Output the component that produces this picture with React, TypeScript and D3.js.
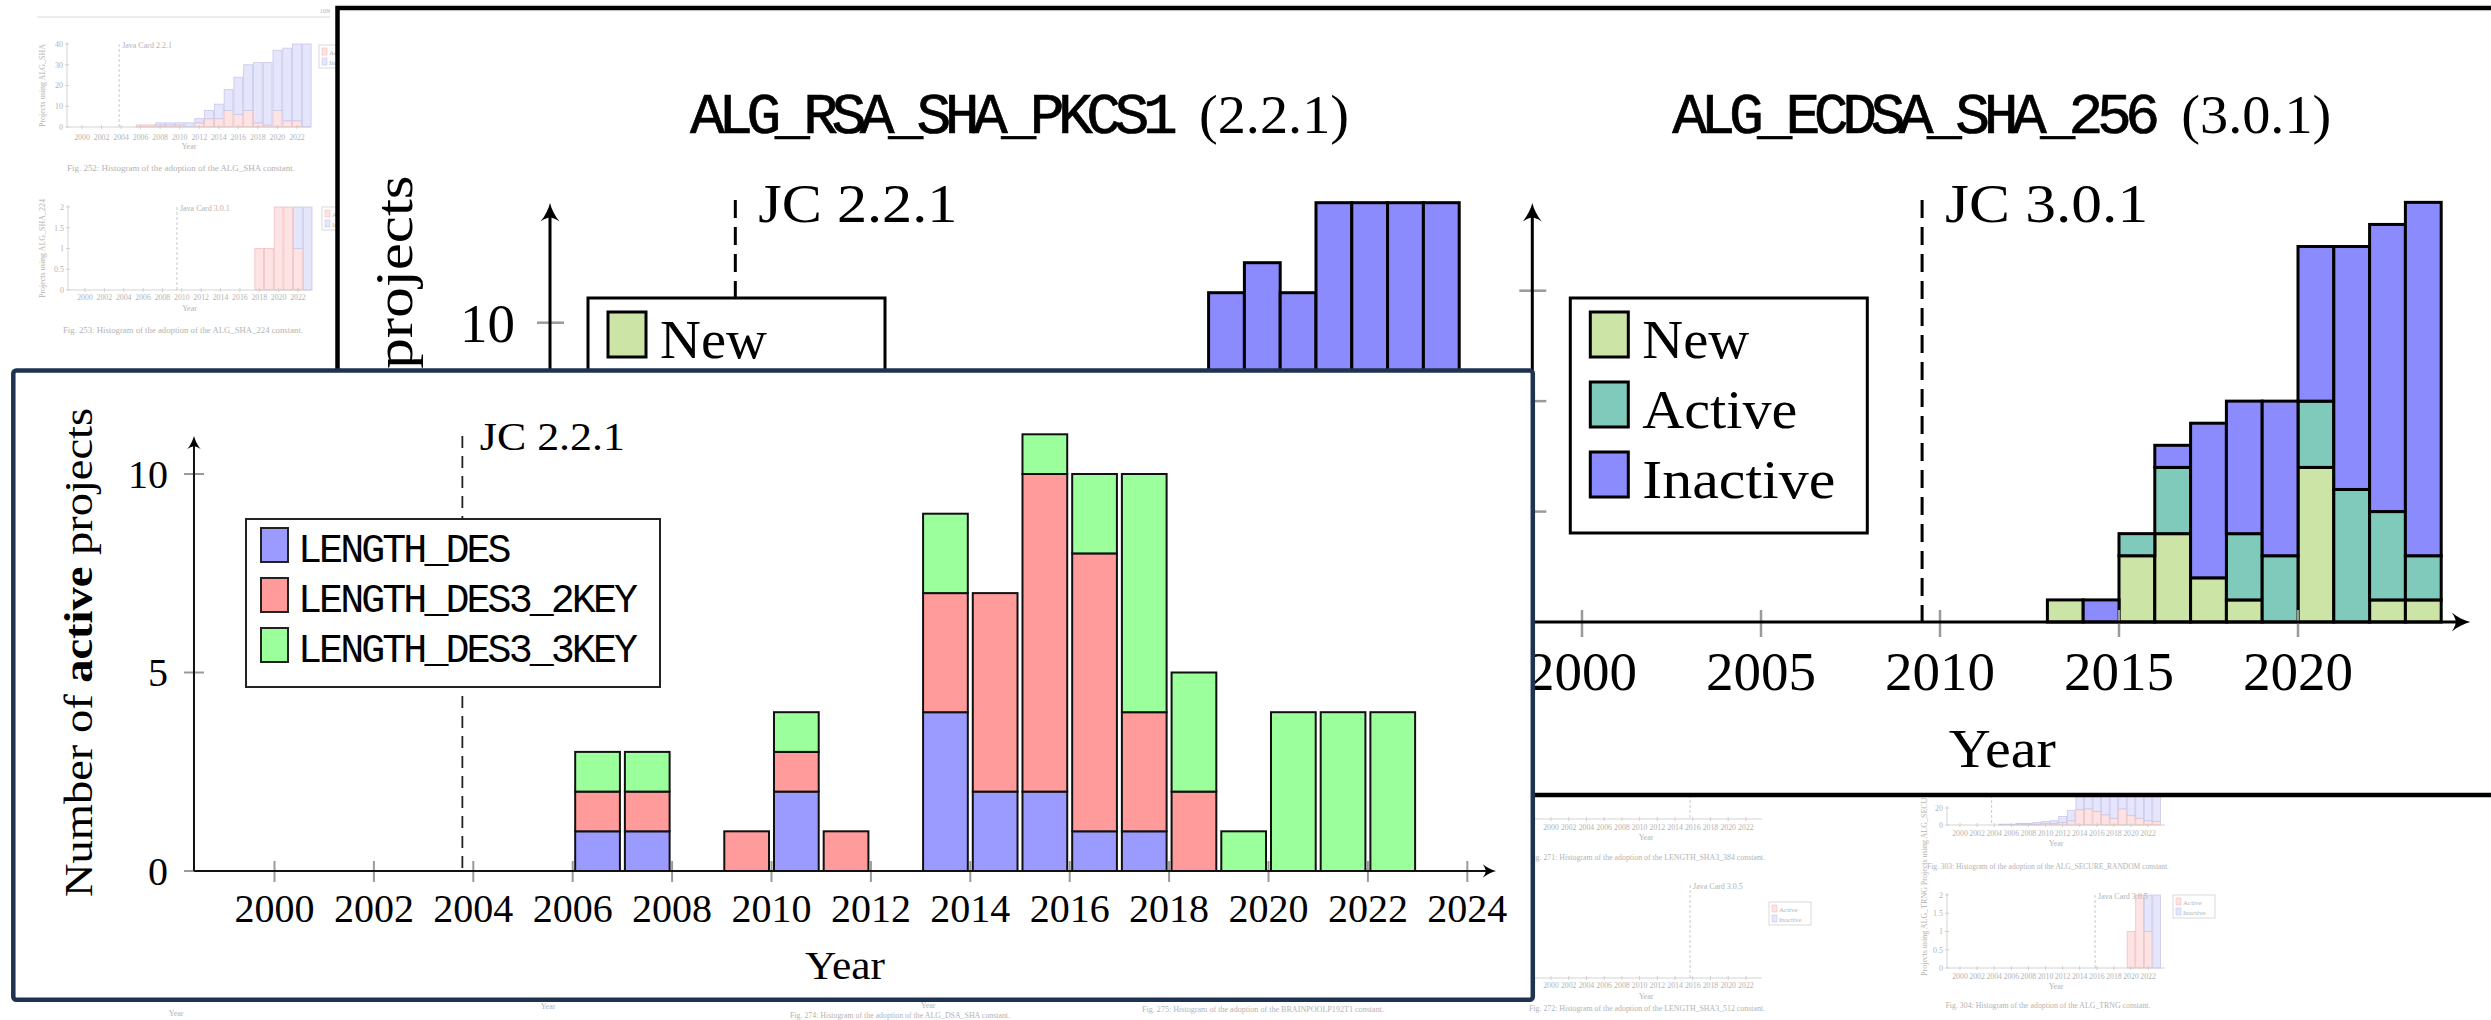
import React from "react";
import * as d3 from "d3";

const SERIF = "'Liberation Serif','Times New Roman',serif";
const MONO = "'Liberation Mono','DejaVu Sans Mono',monospace";

// ---------------- Front chart: DES key lengths ----------------
const desYears = [2006, 2007, 2009, 2010, 2011, 2013, 2014, 2015, 2016, 2017, 2018, 2019, 2020, 2021, 2022];
const lengthDes = [1, 1, 0, 2, 0, 4, 2, 2, 1, 1, 0, 0, 0, 0, 0];
const lengthDes3Key2 = [1, 1, 1, 1, 1, 3, 5, 8, 7, 3, 2, 0, 0, 0, 0];
const lengthDes3Key3 = [1, 1, 0, 1, 0, 2, 0, 1, 2, 6, 3, 1, 4, 4, 4];
const desKeys = ["LENGTH_DES", "LENGTH_DES3_2KEY", "LENGTH_DES3_3KEY"];
const desColors = ["#9b9bff", "#ff9b9b", "#9bff9b"];
const desXTicks = [2000, 2002, 2004, 2006, 2008, 2010, 2012, 2014, 2016, 2018, 2020, 2022, 2024];
const desYTicks = [0, 5, 10];

// ---------------- Back charts: New / Active / Inactive ----------------
const statusKeys = ["New", "Active", "Inactive"];
const statusColors = ["#cce5a6", "#80cabb", "#8b8bfd"];

const ecdsaYears = [2013, 2014, 2015, 2016, 2017, 2018, 2019, 2020, 2021, 2022, 2023];
const ecdsaNew = [1, 0, 3, 4, 2, 1, 0, 7, 0, 1, 1];
const ecdsaActive = [0, 0, 1, 3, 0, 3, 3, 3, 6, 4, 2];
const ecdsaInactive = [0, 1, 0, 1, 7, 6, 7, 7, 11, 13, 16];
const ecdsaXTicks = [2000, 2005, 2010, 2015, 2020];
const ecdsaYTicks = [5, 10, 15];

const rsaYears = [2017, 2018, 2019, 2020, 2021, 2022, 2023];
const rsaInactive = [11, 12, 11, 14, 14, 14, 14];
const rsaYTicks = [10];

// ---------------- Faint background page histograms ----------------
const shaYears = [2006, 2007, 2008, 2009, 2010, 2011, 2012, 2013, 2014, 2015, 2016, 2017, 2018, 2019, 2020, 2021, 2022, 2023];
const shaActive = [1, 1, 1, 1, 1, 0, 2, 4, 4, 8, 6, 8, 2, 1, 8, 3, 3, 0];
const shaInactive = [0, 0, 1, 1, 1, 2, 2, 4, 7, 10, 18, 22, 29, 30, 29, 35, 37, 40];

const sha224Years = [2018, 2019, 2020, 2021, 2022, 2023];
const sha224Active = [1, 1, 2, 2, 1, 0];
const sha224Inactive = [0, 0, 0, 0, 1, 2];

const rndYears = [2005, 2006, 2007, 2008, 2009, 2010, 2011, 2012, 2013, 2014, 2015, 2016, 2017, 2018, 2019, 2020, 2021, 2022, 2023];
const rndActive = [0, 0, 1, 1, 1, 2, 2, 3, 5, 18, 19, 16, 12, 8, 19, 11, 8, 5, 4];
const rndInactive = [1, 1, 1, 1, 2, 2, 3, 7, 12, 18, 26, 34, 40, 47, 39, 49, 52, 57, 58];

const trngYears = [2020, 2021, 2022, 2023];
const trngActive = [1, 2, 1, 0];
const trngInactive = [0, 0, 1, 2];

const faintXTicks = [2000, 2002, 2004, 2006, 2008, 2010, 2012, 2014, 2016, 2018, 2020, 2022];

const ARROW = "M0,0 C1.5,6 5,13 9.5,18.5 C5,15.5 2,14.5 0,14.5 C-2,14.5 -5,15.5 -9.5,18.5 C-5,13 -1.5,6 0,0 Z";

function Arrow({ x, y, dir, s }: { x: number; y: number; dir: "up" | "right"; s: number }) {
  return <path d={ARROW} transform={`translate(${x},${y}) rotate(${dir === "up" ? 0 : 90}) scale(${s})`} fill="#000" />;
}

function stackRows(years: number[], keys: string[], cols: number[][]) {
  const rows = years.map((yr, i) => {
    const r: any = { year: yr };
    keys.forEach((k, j) => (r[k] = cols[j][i]));
    return r;
  });
  return d3.stack<any>().keys(keys)(rows);
}

// ---------- faint histogram ----------
type FaintProps = {
  x2000: number; pxYear: number; axisX: number; axisEnd: number;
  y0: number; yTop: number; yMax: number; yTicks: number[];
  years: number[]; active: number[]; inactive: number[];
  labelY: number; yearY: number; caption?: string; captionY?: number; captionX?: number; captionLen?: number;
  dashYear?: number; dashLabel?: string; dashTop?: number;
  legend?: [number, number]; yLabel?: string; yLabelX?: number;
};

function FaintHist(p: FaintProps) {
  const x = d3.scaleLinear().domain([2000, 2022]).range([p.x2000, p.x2000 + 22 * p.pxYear]);
  const y = d3.scaleLinear().domain([0, p.yMax]).range([p.y0, p.yTop]);
  const st = stackRows(p.years, ["Active", "Inactive"], [p.active, p.inactive]);
  const fills = ["#fde3e3", "#e5e5fb"];
  const strokes = ["#eec0c0", "#c7c7ec"];
  const txt = "#b3b3b3";
  const bw = p.pxYear * 0.9;
  const midX = (p.axisX + p.axisEnd) / 2;
  return (
    <g fontFamily={SERIF}>
      {st.map((layer, li) =>
        layer.map((d: any, i: number) =>
          d[1] - d[0] > 0 ? (
            <rect key={li + "-" + i} x={x(d.data.year) - bw / 2} width={bw} y={y(d[1])} height={y(d[0]) - y(d[1])}
              fill={fills[li]} stroke={strokes[li]} strokeWidth={0.8} />
          ) : null
        )
      )}
      <line x1={p.axisX} x2={p.axisX} y1={p.y0} y2={p.yTop - 2} stroke="#c8c8c8" strokeWidth={0.8} />
      <line x1={p.axisX} x2={p.axisEnd} y1={p.y0} y2={p.y0} stroke="#c8c8c8" strokeWidth={0.8} />
      {p.yTicks.map((t) => (
        <g key={"yt" + t}>
          <line x1={p.axisX - 2} x2={p.axisX + 2} y1={y(t)} y2={y(t)} stroke="#c8c8c8" strokeWidth={0.8} />
          <text x={p.axisX - 4} y={y(t) + 2.8} fontSize={8} fill={txt} textAnchor="end">{t}</text>
        </g>
      ))}
      {faintXTicks.map((t) => (
        <g key={"xt" + t}>
          <line x1={x(t)} x2={x(t)} y1={p.y0 - 2} y2={p.y0 + 2} stroke="#c8c8c8" strokeWidth={0.8} />
          <text x={x(t)} y={p.labelY} fontSize={7.8} fill={txt} textAnchor="middle">{t}</text>
        </g>
      ))}
      <text x={midX} y={p.yearY} fontSize={8} fill={txt} textAnchor="middle">Year</text>
      {p.caption && (
        <text x={p.captionX ?? midX} y={p.captionY} fontSize={7.6} fill={txt} textAnchor="middle"
          textLength={p.captionLen} lengthAdjust="spacingAndGlyphs">{p.caption}</text>
      )}
      {p.dashYear !== undefined && (
        <g>
          <line x1={x(p.dashYear)} x2={x(p.dashYear)} y1={p.dashTop ?? p.yTop} y2={p.y0} stroke="#bdbdbd" strokeWidth={0.8} strokeDasharray="3 2" />
          {p.dashLabel ? <text x={x(p.dashYear) + 3} y={(p.dashTop ?? p.yTop) + 4} fontSize={8} fill={txt}>{p.dashLabel}</text> : null}
        </g>
      )}
      {p.legend && (
        <g>
          <rect x={p.legend[0]} y={p.legend[1]} width={42} height={23} fill="#fff" stroke="#d0d0d0" strokeWidth={0.8} />
          <rect x={p.legend[0] + 3} y={p.legend[1] + 3} width={5} height={7} fill={fills[0]} stroke={strokes[0]} strokeWidth={0.6} />
          <rect x={p.legend[0] + 3} y={p.legend[1] + 13} width={5} height={7} fill={fills[1]} stroke={strokes[1]} strokeWidth={0.6} />
          <text x={p.legend[0] + 10} y={p.legend[1] + 9.5} fontSize={7} fill={txt}>Active</text>
          <text x={p.legend[0] + 10} y={p.legend[1] + 19.5} fontSize={7} fill={txt}>Inactive</text>
        </g>
      )}
      {p.yLabel && (
        <text transform={`translate(${p.yLabelX},${(p.y0 + p.yTop) / 2}) rotate(-90)`} fontSize={8} fill={txt} textAnchor="middle">{p.yLabel}</text>
      )}
    </g>
  );
}

// ---------- back panel chart ----------
type BackProps = {
  yAxisX: number; x2000: number; y0: number; yRef: number; yRefVal: number;
  yTicks: number[]; showYTickLabels: boolean; xTicks: number[];
  years: number[]; cols: number[][];
  title: string; version: string; jcYear: number; jcLabel: string;
  yLabel?: string;
};

function BackChart(p: BackProps) {
  const px = 35.8;
  const x = d3.scaleLinear().domain([2000, 2001]).range([p.x2000, p.x2000 + px]);
  const y = d3.scaleLinear().domain([0, p.yRefVal]).range([p.y0, p.yRef]);
  const st = stackRows(p.years, statusKeys, p.cols);
  const arrowTop = 203;
  const arrowRight = p.yAxisX + 938;
  const center = (p.yAxisX + arrowRight) / 2;
  const jcX = x(p.jcYear);
  const lx = p.yAxisX + 38;
  const legendText = [107, 155, 193];
  return (
    <g fontFamily={SERIF}>
      {/* title */}
      <text x={center - 329} y={133} fontFamily={MONO} fontSize={58} letterSpacing={-6.5}
        stroke="#000" strokeWidth={0.7}>{p.title}</text>
      <text x={center + 180} y={133} fontSize={55} textLength={150} lengthAdjust="spacingAndGlyphs">{p.version}</text>
      {p.yLabel && (
        <text transform={`translate(${p.yAxisX - 138},${(p.y0 + arrowTop) / 2}) rotate(-90)`} fontSize={53}
          textAnchor="middle" textLength={475} lengthAdjust="spacingAndGlyphs">{p.yLabel}</text>
      )}
      {/* bars */}
      {st.map((layer, li) =>
        layer.map((d: any, i: number) =>
          d[1] - d[0] > 0 ? (
            <rect key={li + "-" + i} x={x(d.data.year)} width={x(d.data.year + 1) - x(d.data.year)}
              y={y(d[1])} height={y(d[0]) - y(d[1])} fill={statusColors[li]} stroke="#000" strokeWidth={3} />
          ) : null
        )
      )}
      {/* jc line */}
      <line x1={jcX} x2={jcX} y1={200} y2={p.y0} stroke="#000" strokeWidth={3} strokeDasharray="18 9" />
      <text x={jcX + 23} y={222} fontSize={55} textLength={p.jcLabel === "JC 2.2.1" ? 199 : 203} lengthAdjust="spacingAndGlyphs">{p.jcLabel}</text>
      {/* ticks */}
      {p.yTicks.map((t) => (
        <g key={"y" + t}>
          <line x1={p.yAxisX - 13} x2={p.yAxisX + 14} y1={y(t)} y2={y(t)} stroke="#9a9a9a" strokeWidth={2.5} />
          {p.showYTickLabels && (
            <text x={p.yAxisX - 35} y={y(t) + 19} fontSize={55} textAnchor="end">{t}</text>
          )}
        </g>
      ))}
      {p.xTicks.map((t) => (
        <g key={"x" + t}>
          <line x1={x(t)} x2={x(t)} y1={p.y0 - 12} y2={p.y0 + 15} stroke="#9a9a9a" strokeWidth={2.5} />
          <text x={x(t)} y={690} fontSize={55} textAnchor="middle">{t}</text>
        </g>
      ))}
      <text x={center + 1} y={767} fontSize={55} textAnchor="middle" textLength={107} lengthAdjust="spacingAndGlyphs">Year</text>
      {/* axes */}
      <line x1={p.yAxisX} x2={p.yAxisX} y1={p.y0} y2={arrowTop + 8} stroke="#000" strokeWidth={3} />
      <Arrow x={p.yAxisX} y={arrowTop} dir="up" s={1} />
      <line x1={p.yAxisX} x2={arrowRight - 8} y1={p.y0} y2={p.y0} stroke="#000" strokeWidth={3} />
      <Arrow x={arrowRight} y={p.y0} dir="right" s={1} />
      {/* legend */}
      <rect x={lx} y={298} width={297} height={235} fill="#fff" stroke="#000" strokeWidth={3} />
      {statusKeys.map((k, i) => (
        <g key={k}>
          <rect x={lx + 20} y={312 + 70 * i} width={38} height={45} fill={statusColors[i]} stroke="#000" strokeWidth={3} />
          <text x={lx + 72} y={358 + 70 * i} fontSize={55} textLength={legendText[i]} lengthAdjust="spacingAndGlyphs">{k}</text>
        </g>
      ))}
    </g>
  );
}

// ---------- front chart ----------
function FrontChart() {
  const x = d3.scaleLinear().domain([2000, 2024]).range([274.5, 1467.3]);
  const y = d3.scaleLinear().domain([0, 10]).range([871, 474]);
  const st = stackRows(desYears, desKeys, [lengthDes, lengthDes3Key2, lengthDes3Key3]);
  const axX = x(1998.38);
  const axEnd = x(2024.58);
  const axTop = y(10.96);
  const jcX = x(2003.78);
  const mid = (axX + axEnd) / 2;
  return (
    <g fontFamily={SERIF}>
      <text transform={`translate(92,${(y(0) + axTop) / 2 - 1}) rotate(-90)`} fontSize={41} textAnchor="middle"
        textLength={489} lengthAdjust="spacingAndGlyphs">
        Number of <tspan fontWeight="bold">active</tspan> projects
      </text>
      {st.map((layer, li) =>
        layer.map((d: any, i: number) =>
          d[1] - d[0] > 0 ? (
            <rect key={li + "-" + i} x={x(d.data.year + 0.05)} width={x(d.data.year + 0.95) - x(d.data.year + 0.05)}
              y={y(d[1])} height={y(d[0]) - y(d[1])} fill={desColors[li]} stroke="#111" strokeWidth={2} />
          ) : null
        )
      )}
      <line x1={jcX} x2={jcX} y1={axTop} y2={y(0)} stroke="#222" strokeWidth={1.8} strokeDasharray="12 8" />
      <text x={jcX + 17.5} y={450} fontSize={40} textLength={145} lengthAdjust="spacingAndGlyphs">JC 2.2.1</text>
      {desYTicks.map((t) => (
        <g key={"y" + t}>
          <line x1={axX - 10} x2={axX + 10} y1={y(t)} y2={y(t)} stroke="#9a9a9a" strokeWidth={2} />
          <text x={168} y={y(t) + 13.5} fontSize={40} textAnchor="end">{t}</text>
        </g>
      ))}
      {desXTicks.map((t) => (
        <g key={"x" + t}>
          <line x1={x(t)} x2={x(t)} y1={y(0) - 10} y2={y(0) + 11} stroke="#9a9a9a" strokeWidth={2} />
          <text x={x(t)} y={922} fontSize={40} textAnchor="middle">{t}</text>
        </g>
      ))}
      <text x={mid} y={979} fontSize={40} textAnchor="middle" textLength={80} lengthAdjust="spacingAndGlyphs">Year</text>
      <line x1={axX} x2={axX} y1={y(0)} y2={axTop + 6} stroke="#111" strokeWidth={2} />
      <Arrow x={axX} y={axTop} dir="up" s={0.72} />
      <line x1={axX} x2={axEnd - 6} y1={y(0)} y2={y(0)} stroke="#111" strokeWidth={2} />
      <Arrow x={axEnd} y={y(0)} dir="right" s={0.72} />
      <rect x={246} y={519} width={414} height={168} fill="#fff" stroke="#222" strokeWidth={2} />
      {desKeys.map((k, i) => (
        <g key={k}>
          <rect x={261} y={528 + 50 * i} width={27} height={34} fill={desColors[i]} stroke="#222" strokeWidth={2} />
          <text x={298} y={562 + 50 * i} fontFamily={MONO} fontSize={40} letterSpacing={-2.94}>{k}</text>
        </g>
      ))}
    </g>
  );
}

export default function App() {
  const faintTxt = "#b3b3b3";
  return (
    <svg width={2491} height={1020} viewBox="0 0 2491 1020" style={{ position: "absolute", left: 0, top: 0, display: "block" }}>
      <rect x={0} y={0} width={2491} height={1020} fill="#fff" />
      {/* faint page in the background */}
      <g>
        <line x1={37} x2={330} y1={17} y2={17} stroke="#d0d0d0" strokeWidth={0.8} />
        <text x={330} y={13} fontFamily={SERIF} fontSize={7} fill={faintTxt} textAnchor="end">109</text>
        <FaintHist x2000={82} pxYear={9.77} axisX={67} axisEnd={311} y0={127} yTop={44} yMax={40} yTicks={[0, 10, 20, 30, 40]}
          years={shaYears} active={shaActive} inactive={shaInactive} labelY={140} yearY={149}
          caption="Fig. 252: Histogram of the adoption of the ALG_SHA constant." captionY={171} captionX={181} captionLen={228}
          dashYear={2003.8} dashLabel="Java Card 2.2.1" legend={[319, 45]} yLabel="Projects using ALG_SHA" yLabelX={45} />
        <FaintHist x2000={85} pxYear={9.68} axisX={68} axisEnd={311} y0={290} yTop={207} yMax={2} yTicks={[0, 0.5, 1, 1.5, 2]}
          years={sha224Years} active={sha224Active} inactive={sha224Inactive} labelY={300} yearY={311}
          caption="Fig. 253: Histogram of the adoption of the ALG_SHA_224 constant." captionY={333} captionX={183} captionLen={240}
          dashYear={2009.5} dashLabel="Java Card 3.0.1" legend={[322, 207]} yLabel="Projects using ALG_SHA_224" yLabelX={45} />
        <text transform="translate(45,420) rotate(-90)" fontFamily={SERIF} fontSize={8} fill={faintTxt} textAnchor="middle">Projects using ALG_SHA_256</text>
        <FaintHist x2000={1551} pxYear={8.86} axisX={1530} axisEnd={1762} y0={819} yTop={760} yMax={2} yTicks={[]}
          years={[]} active={[]} inactive={[]} labelY={830} yearY={840}
          caption="Fig. 271: Histogram of the adoption of the LENGTH_SHA3_384 constant." captionY={860} captionX={1647} captionLen={236}
          dashYear={2015.7} dashLabel="" />
        <FaintHist x2000={1551} pxYear={8.86} axisX={1530} axisEnd={1762} y0={978} yTop={880} yMax={2} yTicks={[]}
          years={[]} active={[]} inactive={[]} labelY={988} yearY={999}
          caption="Fig. 272: Histogram of the adoption of the LENGTH_SHA3_512 constant." captionY={1011} captionX={1647} captionLen={236}
          dashYear={2015.7} dashLabel="Java Card 3.0.5" dashTop={885} legend={[1769, 902]} />
        <FaintHist x2000={1960} pxYear={8.55} axisX={1947} axisEnd={2165} y0={825} yTop={808} yMax={20} yTicks={[0, 20]}
          years={rndYears} active={rndActive} inactive={rndInactive} labelY={836} yearY={846}
          caption="Fig. 303: Histogram of the adoption of the ALG_SECURE_RANDOM constant." captionY={869} captionX={2048} captionLen={242}
          dashYear={2003.7} dashLabel="" dashTop={760} yLabel="Projects using ALG_SECURE_RANDOM" yLabelX={1927} />
        <FaintHist x2000={1960} pxYear={8.55} axisX={1947} axisEnd={2165} y0={968} yTop={895} yMax={2} yTicks={[0, 0.5, 1, 1.5, 2]}
          years={trngYears} active={trngActive} inactive={trngInactive} labelY={979} yearY={989}
          caption="Fig. 304: Histogram of the adoption of the ALG_TRNG constant." captionY={1008} captionX={2048} captionLen={205}
          dashYear={2015.8} dashLabel="Java Card 3.0.5" legend={[2173, 895]} yLabel="Projects using ALG_TRNG" yLabelX={1927} />
        <g fontFamily={SERIF} fill={faintTxt}>
          <text x={176} y={1016} fontSize={8} textAnchor="middle">Year</text>
          <text x={548} y={1009} fontSize={8} textAnchor="middle">Year</text>
          <text x={928} y={1008} fontSize={8} textAnchor="middle">Year</text>
          <text x={1263} y={1012} fontSize={7.6} textAnchor="middle" textLength={242} lengthAdjust="spacingAndGlyphs">Fig. 275: Histogram of the adoption of the BRAINPOOLP192T1 constant.</text>
          <text x={900} y={1018} fontSize={7.4} textAnchor="middle" textLength={220} lengthAdjust="spacingAndGlyphs">Fig. 274: Histogram of the adoption of the ALG_DSA_SHA constant.</text>
        </g>
      </g>

      {/* back panel */}
      <rect x={337.5} y={8} width={2300} height={787} fill="#fff" stroke="#000" strokeWidth={4.5} />
      <BackChart yAxisX={550} x2000={600} y0={622.7} yRef={322.7} yRefVal={10} yTicks={rsaYTicks} showYTickLabels={true}
        xTicks={[]} years={rsaYears} cols={[rsaYears.map(() => 0), rsaYears.map(() => 0), rsaInactive]}
        title="ALG_RSA_SHA_PKCS1" version="(2.2.1)" jcYear={2003.78} jcLabel="JC 2.2.1" yLabel="Number of projects" />
      <BackChart yAxisX={1532.3} x2000={1582} y0={622} yRef={290.7} yRefVal={15} yTicks={ecdsaYTicks} showYTickLabels={false}
        xTicks={ecdsaXTicks} years={ecdsaYears} cols={[ecdsaNew, ecdsaActive, ecdsaInactive]}
        title="ALG_ECDSA_SHA_256" version="(3.0.1)" jcYear={2009.5} jcLabel="JC 3.0.1" />

      {/* front panel */}
      <rect x={13.3} y={370.5} width={1519.5} height={629.3} rx={3} fill="#fff" stroke="#1f3350" strokeWidth={4.5} />
      <FrontChart />
    </svg>
  );
}
